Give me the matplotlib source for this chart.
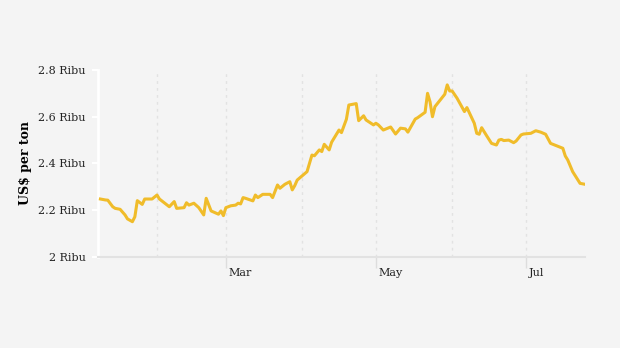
import numpy as np
import matplotlib.pyplot as plt
import matplotlib.transforms as mtransforms
import pandas as pd

# daily price (US$ per ton)
dates = ['2021-01-09', '2021-01-11', '2021-01-12', '2021-01-14', '2021-01-15', '2021-01-17',
         '2021-01-19', '2021-01-20', '2021-01-22', '2021-01-23', '2021-01-24', '2021-01-26',
         '2021-01-27', '2021-01-30', '2021-02-01', '2021-02-02', '2021-02-06', '2021-02-08',
         '2021-02-09', '2021-02-12', '2021-02-13', '2021-02-14', '2021-02-16', '2021-02-18',
         '2021-02-20', '2021-02-21', '2021-02-23', '2021-02-26', '2021-02-27', '2021-02-28',
         '2021-03-01', '2021-03-03', '2021-03-05', '2021-03-06', '2021-03-07', '2021-03-08',
         '2021-03-09', '2021-03-12', '2021-03-13', '2021-03-14', '2021-03-16', '2021-03-19',
         '2021-03-20', '2021-03-22', '2021-03-23', '2021-03-25', '2021-03-27', '2021-03-28',
         '2021-03-29', '2021-03-30', '2021-04-03', '2021-04-05', '2021-04-06', '2021-04-08',
         '2021-04-09', '2021-04-10', '2021-04-12', '2021-04-13', '2021-04-16', '2021-04-17',
         '2021-04-19', '2021-04-20', '2021-04-23', '2021-04-24', '2021-04-26', '2021-04-27',
         '2021-04-30', '2021-05-01', '2021-05-02', '2021-05-04', '2021-05-07', '2021-05-09',
         '2021-05-11', '2021-05-13', '2021-05-14', '2021-05-17', '2021-05-18', '2021-05-21',
         '2021-05-22', '2021-05-23', '2021-05-24', '2021-05-25', '2021-05-29', '2021-05-30',
         '2021-05-31', '2021-06-01', '2021-06-03', '2021-06-06', '2021-06-07', '2021-06-10',
         '2021-06-11', '2021-06-12', '2021-06-13', '2021-06-15', '2021-06-17', '2021-06-19',
         '2021-06-20', '2021-06-21', '2021-06-22', '2021-06-24', '2021-06-26', '2021-06-27',
         '2021-06-29', '2021-06-30', '2021-07-03', '2021-07-05', '2021-07-07', '2021-07-09',
         '2021-07-11', '2021-07-16', '2021-07-17', '2021-07-18', '2021-07-20', '2021-07-23',
         '2021-07-25']
prices = [2248, 2244, 2243, 2215, 2208, 2204,
          2180, 2163, 2151, 2172, 2241, 2225,
          2248, 2248, 2265, 2248, 2215, 2237,
          2208, 2211, 2232, 2222, 2230, 2211,
          2180, 2251, 2197, 2183, 2197, 2177,
          2211, 2219, 2222, 2230, 2227, 2254,
          2251, 2240, 2265, 2254, 2268, 2268,
          2254, 2308, 2294, 2311, 2322, 2287,
          2305, 2329, 2365, 2436, 2433, 2458,
          2451, 2482, 2458, 2491, 2543, 2532,
          2589, 2650, 2656, 2583, 2604, 2586,
          2565, 2572, 2565, 2543, 2556, 2526,
          2551, 2548, 2534, 2590, 2596, 2619,
          2700, 2664, 2600, 2643, 2696, 2736,
          2710, 2710, 2679, 2622, 2639, 2572,
          2529, 2525, 2553, 2519, 2486, 2479,
          2500, 2503, 2498, 2500, 2489, 2496,
          2522, 2526, 2529, 2540, 2534, 2525,
          2486, 2465, 2432, 2415, 2365, 2315,
          2311]

y_ticks = [2000, 2200, 2400, 2600, 2800]
y_labels = ['2 Ribu', '2.2 Ribu', '2.4 Ribu', '2.6 Ribu', '2.8 Ribu']
month_lines = ['2021-02-01', '2021-03-01', '2021-04-01', '2021-05-01', '2021-06-01', '2021-07-01']
x_ticks = ['2021-03-01', '2021-05-01', '2021-07-01']
x_labels = ['Mar', 'May', 'Jul']

x = pd.to_datetime(dates)
bg = '#f4f4f4'

plt.rcParams['font.family'] = 'DejaVu Serif'
fig = plt.figure(figsize=(6.2, 3.48), dpi=100, facecolor=bg)
ax = fig.add_axes([0.158, 0.2615, 0.7855, 0.5375], facecolor=bg)

for m in pd.to_datetime(month_lines):
    ax.axvline(m, color='#e2e2e2', lw=1, ls=(0, (2, 3)), zorder=1)

ax.plot(x, prices, color='#f0bc2a', lw=2.2, zorder=3, solid_joinstyle='round')

ax.set_xlim(pd.Timestamp('2021-01-08'), pd.Timestamp('2021-07-25'))
ax.set_ylim(2000, 2800)

ax.set_yticks(y_ticks)
ax.set_yticklabels(y_labels, fontsize=8, color='#222222')
ax.tick_params(axis='y', length=4, width=1.5, color='white', pad=5)

ax.set_xticks(pd.to_datetime(x_ticks))
ax.set_xticklabels(x_labels, fontsize=8, color='#222222', ha='left')
ax.tick_params(axis='x', length=8, width=1, color='#dddddd', pad=0)
shift = mtransforms.ScaledTranslation(3 / 100, 0, fig.dpi_scale_trans)
for lbl in ax.get_xticklabels():
    lbl.set_transform(lbl.get_transform() + shift)

ax.set_ylabel('US$ per ton', fontsize=9, fontweight='bold', labelpad=4)

for s in ['top', 'right']:
    ax.spines[s].set_visible(False)
ax.spines['left'].set_color('white')
ax.spines['left'].set_linewidth(2)
ax.spines['bottom'].set_color('#e2e2e2')
ax.spines['bottom'].set_linewidth(1.5)

plt.savefig('out.png', dpi=100, facecolor=bg)
